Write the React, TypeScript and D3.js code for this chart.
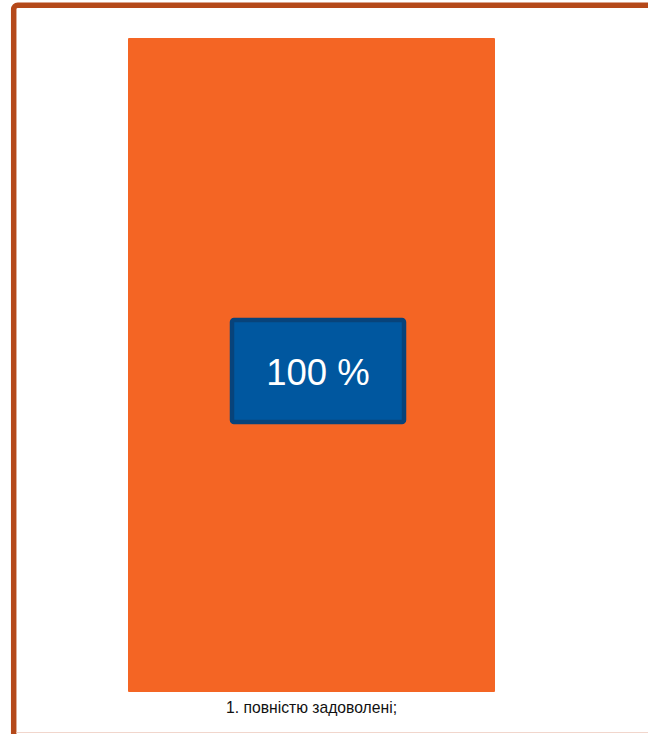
import * as React from "react";
import * as d3 from "d3";

const categories = ["1. повністю задоволені;"];
const values = [100];
const valueLabels = ["100 %"];

const W = 648;
const H = 734;

function drawChart(svgRef: React.RefObject<SVGSVGElement>) {
  const svg = d3.select(svgRef.current);
  svg.selectAll("*").remove();

  svg
    .attr("width", W)
    .attr("height", H)
    .style("position", "absolute")
    .style("left", "0px")
    .style("top", "0px")
    .style("background", "#ffffff");

  // outer frame (runs off the right and bottom of the page)
  svg
    .append("rect")
    .attr("x", 13.7)
    .attr("y", 5.3)
    .attr("width", 700)
    .attr("height", 732)
    .attr("rx", 4)
    .attr("fill", "none")
    .attr("stroke", "#b5491a")
    .attr("stroke-width", 5.5);

  svg
    .append("line")
    .attr("x1", 16.5)
    .attr("x2", W)
    .attr("y1", 732.5)
    .attr("y2", 732.5)
    .attr("stroke", "#f1d6cc")
    .attr("stroke-width", 1);

  // scales
  const xScale = d3
    .scaleBand()
    .domain(categories)
    .range([128, 495])
    .padding(0);

  const yScale = d3.scaleLinear().domain([0, 100]).range([692, 38]);

  // bars
  svg
    .selectAll(".bar")
    .data(values)
    .join("rect")
    .attr("class", "bar")
    .attr("x", (v, i) => xScale(categories[i])!)
    .attr("y", (v) => yScale(v))
    .attr("width", xScale.bandwidth())
    .attr("height", (v) => yScale(0) - yScale(v))
    .attr("rx", 1)
    .attr("fill", "#f46524");

  // value labels in boxes (sit a little right of / below the bar centre)
  const boxW = 172;
  const boxH = 102;
  const labels = svg
    .selectAll(".vlabel")
    .data(values)
    .join("g")
    .attr("class", "vlabel")
    .attr("transform", (v, i) => {
      const cx = xScale(categories[i])! + xScale.bandwidth() / 2 + 6.5;
      const cy = (yScale(v) + yScale(0)) / 2 + 6;
      return "translate(" + cx + "," + cy + ")";
    });

  labels
    .append("rect")
    .attr("x", -boxW / 2)
    .attr("y", -boxH / 2)
    .attr("width", boxW)
    .attr("height", boxH)
    .attr("rx", 2)
    .attr("fill", "#00579f")
    .attr("stroke", "#08437a")
    .attr("stroke-width", 4.5);

  labels
    .append("text")
    .attr("x", 0)
    .attr("y", 14)
    .attr("text-anchor", "middle")
    .attr("fill", "#ffffff")
    .attr("font-family", "Liberation Sans, Arial, sans-serif")
    .attr("font-size", 36.5)
    .text((v, i) => valueLabels[i]);

  // category axis labels
  svg
    .selectAll(".cat")
    .data(categories)
    .join("text")
    .attr("class", "cat")
    .attr("x", (c) => xScale(c)! + xScale.bandwidth() / 2)
    .attr("y", 712.5)
    .attr("text-anchor", "middle")
    .attr("fill", "#111111")
    .attr("font-family", "Liberation Sans, Arial, sans-serif")
    .attr("font-size", 15.7)
    .text((c) => c);
}

const Chart: React.FunctionComponent = () => {
  const svg = React.useRef<SVGSVGElement>(null);
  React.useEffect(() => {
    drawChart(svg);
  }, [svg]);

  return (
    <div id="chart">
      <svg ref={svg} />
    </div>
  );
};

export default Chart;
